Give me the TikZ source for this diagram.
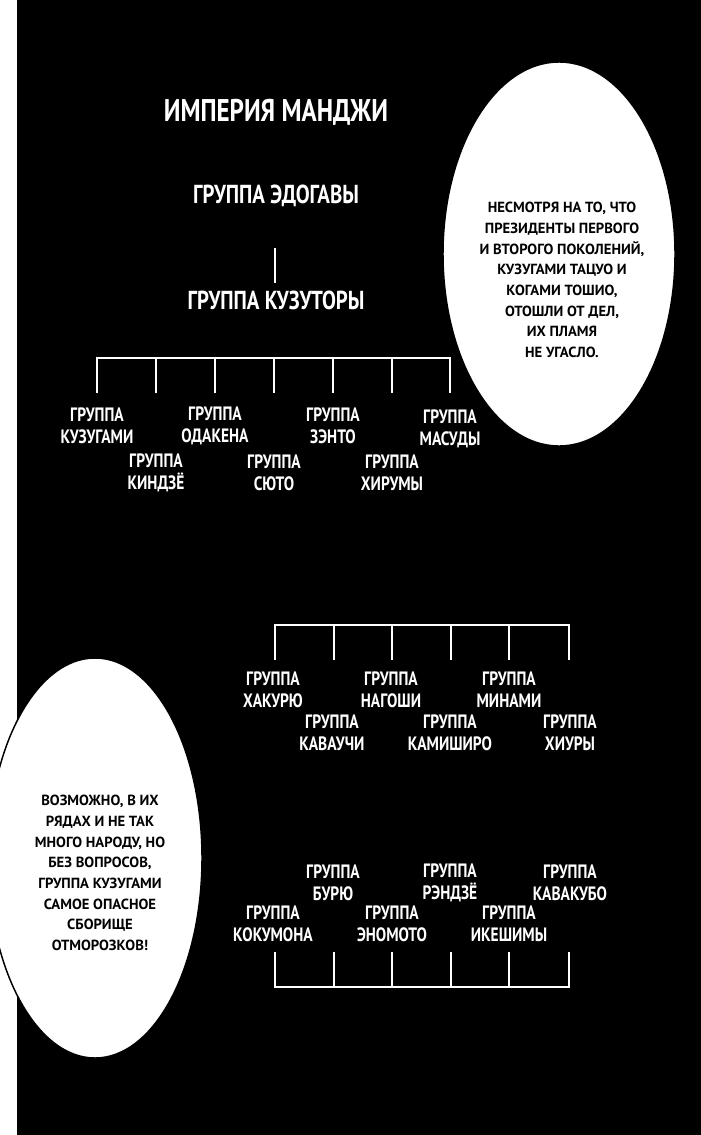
\documentclass[tikz,border=0pt]{standalone}
\usepackage{fontspec}
\setmainfont[FakeStretch=0.8,BoldFont={PT Sans Bold}]{PT Sans}
\newfontfamily\bubblefont{PT Sans Bold}
\begin{document}
\begin{tikzpicture}[x=0.75pt,y=-0.75pt,
  lbl/.style={text=white,align=center,font=\bfseries\fontsize{14.5}{16.5}\selectfont,inner sep=0pt},
  head/.style={text=white,font=\bfseries\fontsize{19.5}{22}\selectfont,inner sep=0pt},
  tree/.style={white,line width=2.2pt},
  bub/.style={fill=white,draw=black,line width=1.1pt},
  btxt/.style={text=black,align=center,font=\bubblefont\fontsize{11}{15.5}\selectfont,inner sep=0pt}]
\fill[white] (0,0) rectangle (700,1135);
\useasboundingbox (0,0) rectangle (700,1135);
\fill[black] (17,-5) rectangle (720,1145);
% bubbles
\path[bub] (559,254) ellipse [x radius=116,y radius=192];
\path[bub] (95,858) ellipse [x radius=107,y radius=200];
\node[btxt] (b1) at (562,280) {НЕСМОТРЯ НА ТО, ЧТО\\ПРЕЗИДЕНТЫ ПЕРВОГО\\И ВТОРОГО ПОКОЛЕНИЙ,\\КУЗУГАМИ ТАЦУО И\\КОГАМИ ТОШИО,\\ОТОШЛИ ОТ ДЕЛ,\\ИХ ПЛАМЯ\\НЕ УГАСЛО.};
\node[btxt] (b2) at (100,873) {ВОЗМОЖНО, В ИХ\\РЯДАХ И НЕ ТАК\\МНОГО НАРОДУ, НО\\БЕЗ ВОПРОСОВ,\\ГРУППА КУЗУГАМИ\\САМОЕ ОПАСНОЕ\\СБОРИЩЕ\\ОТМОРОЗКОВ!};
% headings
\node[head,font=\bfseries\fontsize{23.5}{26}\selectfont] (emp) at (276,112) {ИМПЕРИЯ МАНДЖИ};
\node[head] (edo) at (276,196) {ГРУППА ЭДОГАВЫ};
\node[head] (kuz) at (276,300) {ГРУППА КУЗУТОРЫ};
\coordinate (v1) at (275,248); \coordinate (v2) at (275,283);
\draw[tree] (v1) -- (v2);
% tree 1
\draw[tree] (97,393) -- (97,358) -- (450,358) -- (450,393);
\foreach \x in {156,215,274,333,392} \draw[tree] (\x,358) -- (\x,393);
\node[lbl] at (97,426) {ГРУППА\\КУЗУГАМИ};
\node[lbl] at (156,473) {ГРУППА\\КИНДЗЁ};
\node[lbl] at (215,426) {ГРУППА\\ОДАКЕНА};
\node[lbl] at (274,473) {ГРУППА\\СЮТО};
\node[lbl] at (333,426) {ГРУППА\\ЗЭНТО};
\node[lbl] at (392,473) {ГРУППА\\ХИРУМЫ};
\node[lbl] at (450,429) {ГРУППА\\МАСУДЫ};
% tree 2
\draw[tree] (275,660) -- (275,625) -- (569,625) -- (569,660);
\foreach \x in {334,392,451,509} \draw[tree] (\x,625) -- (\x,660);
\node[lbl] at (273,690) {ГРУППА\\ХАКУРЮ};
\node[lbl] at (332,733) {ГРУППА\\КАВАУЧИ};
\node[lbl] at (391,690) {ГРУППА\\НАГОШИ};
\node[lbl] at (450,733) {ГРУППА\\КАМИШИРО};
\node[lbl] at (509,690) {ГРУППА\\МИНАМИ};
\node[lbl] at (570,733) {ГРУППА\\ХИУРЫ};
% tree 3
\draw[tree] (275,952) -- (275,987) -- (569,987) -- (569,952);
\foreach \x in {334,392,451,509} \draw[tree] (\x,952) -- (\x,987);
\node[lbl] at (273,924) {ГРУППА\\КОКУМОНА};
\node[lbl] at (333,883) {ГРУППА\\БУРЮ};
\node[lbl] at (392,924) {ГРУППА\\ЭНОМОТО};
\node[lbl] at (450,883) {ГРУППА\\РЭНДЗЁ};
\node[lbl] at (509,924) {ГРУППА\\ИКЕШИМЫ};
\node[lbl] at (570,883) {ГРУППА\\КАВАКУБО};
\end{tikzpicture}
\end{document}
